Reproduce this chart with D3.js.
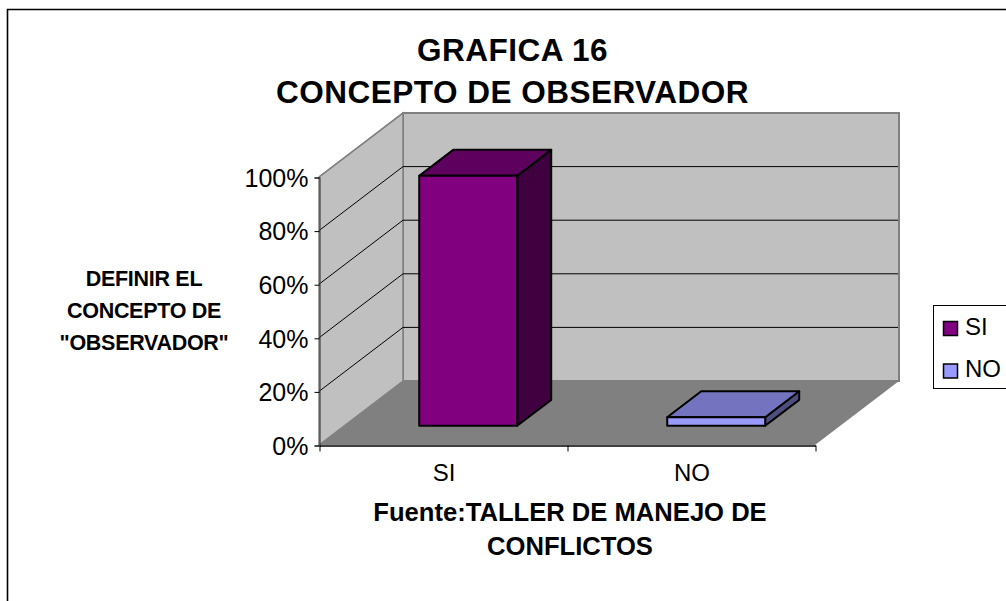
<!DOCTYPE html>
<html>
<head>
<meta charset="utf-8">
<script src="https://cdnjs.cloudflare.com/ajax/libs/d3/7.8.5/d3.min.js"></script>
<style>
html, body { margin: 0; padding: 0; background: #fff; overflow: hidden; }
text { font-family: "Liberation Sans", Arial, sans-serif; fill: #000; }
</style>
</head>
<body>
<script>
//chart values
const categories = ['SI', 'NO'];
const values = [0.933, 0.032];
const tickValues = [0, 0.2, 0.4, 0.6, 0.8, 1];
const titleLines = ['GRAFICA 16', 'CONCEPTO DE OBSERVADOR'];
const yTitleLines = ['DEFINIR EL', 'CONCEPTO DE', '"OBSERVADOR"'];
const xTitleLines = ['Fuente:TALLER DE MANEJO DE', 'CONFLICTOS'];

const frontColors = ['#800080', '#9999ff'];
const topColors = ['#5e005e', '#7373bf'];
const sideColors = ['#400040', '#4d4d80'];

const c_width = 1006;
const c_height = 601;

const svg = d3.select('body').append('svg')
	.attr('width', c_width)
	.attr('height', c_height)
	.style('display', 'block');

//outer frame runs off the right and bottom of the picture
svg.append('path')
	.attr('d', 'M1007,9.5H7.5V602')
	.attr('fill', 'none')
	.attr('stroke', '#000')
	.attr('stroke-width', 1.6);

const x = d3.scaleBand()
	.domain(categories)
	.range([319, 815])
	.paddingInner(0.605)
	.paddingOuter(0.3025);

const y = d3.scaleLinear()
	.domain([0, 1])
	.range([445, 177]);

//oblique depth of the 3d box, z runs 0 (front) to 1 (back)
const depthX = 84;
const depthY = 64;
const px = (xv, z) => xv + z * depthX;
const py = (yv, z) => yv - z * depthY;
const poly = pts => 'M' + pts.map(p => px(p[0], p[2]) + ',' + py(p[1], p[2])).join('L') + 'Z';

const [x0, x1] = x.range();
const [y0, y1] = y.range();

//walls and floor
svg.append('path')
	.attr('d', poly([[x0, y0, 1], [x1, y0, 1], [x1, y1, 1], [x0, y1, 1]]))
	.attr('fill', '#c0c0c0')
	.attr('stroke', '#808080')
	.attr('stroke-width', 2);
svg.append('path')
	.attr('d', poly([[x0, y0, 0], [x0, y0, 1], [x0, y1, 1], [x0, y1, 0]]))
	.attr('fill', '#c0c0c0')
	.attr('stroke', '#808080')
	.attr('stroke-width', 1.5);
svg.append('path')
	.attr('d', poly([[x0, y0, 0], [x1, y0, 0], [x1, y0, 1], [x0, y0, 1]]))
	.attr('fill', '#808080');

//gridlines along left wall and back wall
svg.append('g').selectAll('path')
	.data(tickValues.filter(d => d > 0 && d < 1))
	.enter()
	.append('path')
	.attr('d', d => 'M' + px(x0, 0) + ',' + py(y(d), 0) + 'L' + px(x0, 1) + ',' + py(y(d), 1) + 'H' + (px(x1, 1) - 1))
	.attr('fill', 'none')
	.attr('stroke', '#000')
	.attr('stroke-width', 1);
svg.append('path')
	.attr('d', 'M' + px(x0, 0) + ',' + py(y(1), 0) + 'L' + px(x0, 1) + ',' + py(y(1), 1))
	.attr('stroke', '#808080')
	.attr('stroke-width', 1.5);

//bars
const zFront = 0.3;
const zBack = 0.705;
const bars = svg.append('g').selectAll('g')
	.data(categories)
	.enter()
	.append('g')
	.attr('stroke', '#000')
	.attr('stroke-width', 2)
	.attr('stroke-linejoin', 'round');

const barL = d => x(d);
const barR = d => x(d) + x.bandwidth();
const barTop = (d, i) => y(values[i]);

bars.append('path')
	.attr('d', (d, i) => poly([[barR(d), y0, zFront], [barR(d), y0, zBack], [barR(d), barTop(d, i), zBack], [barR(d), barTop(d, i), zFront]]))
	.attr('fill', (d, i) => sideColors[i]);
bars.append('path')
	.attr('d', (d, i) => poly([[barL(d), barTop(d, i), zFront], [barR(d), barTop(d, i), zFront], [barR(d), barTop(d, i), zBack], [barL(d), barTop(d, i), zBack]]))
	.attr('fill', (d, i) => topColors[i]);
bars.append('path')
	.attr('d', (d, i) => poly([[barL(d), y0, zFront], [barR(d), y0, zFront], [barR(d), barTop(d, i), zFront], [barL(d), barTop(d, i), zFront]]))
	.attr('fill', (d, i) => frontColors[i]);

//axes
const yAxis = d3.axisLeft(y)
	.tickValues(tickValues)
	.tickFormat(d3.format('.0%'))
	.tickSize(5)
	.tickPadding(6);
const yG = svg.append('g')
	.attr('transform', 'translate(' + (x0 + 0.5) + ',0.5)')
	.call(yAxis);
yG.selectAll('text').style('font-size', '25px').attr('font-family', null).attr('dy', '0.35em');
yG.selectAll('line').attr('stroke', '#000');
yG.select('.domain').attr('stroke', '#404040').attr('stroke-width', 1.2);

const xAxis = d3.axisBottom(d3.scalePoint().domain([0, 1, 2]).range([x0, x1]))
	.tickFormat('')
	.tickSize(6)
	.tickSizeOuter(0);
const xG = svg.append('g')
	.attr('transform', 'translate(0.5,' + (y0 + 0.5) + ')')
	.call(xAxis);
xG.select('.domain').attr('stroke', '#000').attr('stroke-width', 1.5);

svg.append('g').selectAll('text')
	.data(categories)
	.enter()
	.append('text')
	.attr('x', d => x(d) + x.bandwidth() / 2 + 1)
	.attr('y', 481)
	.attr('text-anchor', 'middle')
	.style('font-size', '24px')
	.text(d => d);

//titles
svg.append('g').selectAll('text')
	.data(titleLines)
	.enter()
	.append('text')
	.attr('x', 512.5)
	.attr('y', (d, i) => 61 + i * 41.5)
	.attr('text-anchor', 'middle')
	.style('font-size', '31.5px')
	.style('font-weight', 'bold')
	.style('letter-spacing', '0.5px')
	.text(d => d);

svg.append('g').selectAll('text')
	.data(yTitleLines)
	.enter()
	.append('text')
	.attr('x', 144)
	.attr('y', (d, i) => 286 + i * 32)
	.attr('text-anchor', 'middle')
	.style('font-size', '21.5px')
	.style('font-weight', 'bold')
	.style('letter-spacing', '-0.3px')
	.text(d => d);

svg.append('g').selectAll('text')
	.data(xTitleLines)
	.enter()
	.append('text')
	.attr('x', 570)
	.attr('y', (d, i) => 521 + i * 34)
	.attr('text-anchor', 'middle')
	.style('font-size', '25.6px')
	.style('font-weight', 'bold')
	.text(d => d);

//legend, runs off the right edge
const legend = svg.append('g');
legend.append('rect')
	.attr('x', 933.5)
	.attr('y', 305.5)
	.attr('width', 80)
	.attr('height', 83)
	.attr('fill', '#fff')
	.attr('stroke', '#000')
	.attr('stroke-width', 1);
const legendItems = legend.selectAll('g')
	.data(categories)
	.enter()
	.append('g')
	.attr('transform', (d, i) => 'translate(0,' + (i * 42.5) + ')');
legendItems.append('rect')
	.attr('x', 943.5)
	.attr('y', 321.5)
	.attr('width', 14)
	.attr('height', 14)
	.attr('fill', (d, i) => frontColors[i])
	.attr('stroke', '#000')
	.attr('stroke-width', 1.5);
legendItems.append('text')
	.attr('x', 965)
	.attr('y', 334.5)
	.style('font-size', '24px')
	.text(d => d);
</script>
</body>
</html>
